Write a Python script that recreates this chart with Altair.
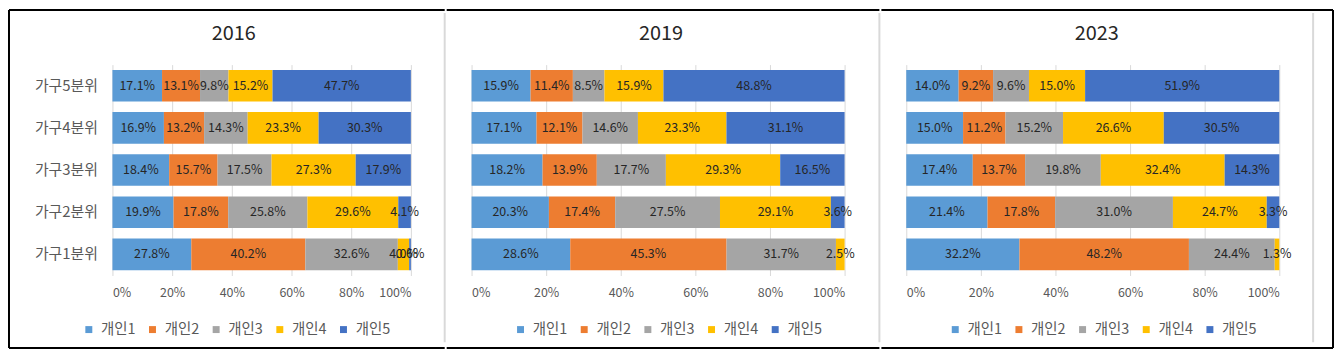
import altair as alt
import pandas as pd

years = ["2016", "2019", "2023"]
groups = ["가구5분위", "가구4분위", "가구3분위", "가구2분위", "가구1분위"]
persons = ["개인1", "개인2", "개인3", "개인4", "개인5"]
colors = ["#5B9BD5", "#ED7D31", "#A5A5A5", "#FFC000", "#4472C4"]

# rows follow `groups`, columns follow `persons`
v2016 = [
    [17.1, 13.1, 9.8, 15.2, 47.7],
    [16.9, 13.2, 14.3, 23.3, 30.3],
    [18.4, 15.7, 17.5, 27.3, 17.9],
    [19.9, 17.8, 25.8, 29.6, 4.1],
    [27.8, 40.2, 32.6, 4.0, 0.6],
]
v2019 = [
    [15.9, 11.4, 8.5, 15.9, 48.8],
    [17.1, 12.1, 14.6, 23.3, 31.1],
    [18.2, 13.9, 17.7, 29.3, 16.5],
    [20.3, 17.4, 27.5, 29.1, 3.6],
    [28.6, 45.3, 31.7, 2.5, 0.0],
]
v2023 = [
    [14.0, 9.2, 9.6, 15.0, 51.9],
    [15.0, 11.2, 15.2, 26.6, 30.5],
    [17.4, 13.7, 19.8, 32.4, 14.3],
    [21.4, 17.8, 31.0, 24.7, 3.3],
    [32.2, 48.2, 24.4, 1.3, 0.0],
]
x_ticks = [0, 0.2, 0.4, 0.6, 0.8, 1.0]

FONT = "Noto Sans CJK KR"
H = 212
BLACK = "#000000"
SEP = "#D9D9D9"


def table(vals):
    rows = []
    for gi, g in enumerate(groups):
        for pi, p in enumerate(persons):
            v = vals[gi][pi]
            if v > 0:
                rows.append({"group": g, "person": p, "order": pi, "value": v})
    return pd.DataFrame(rows)


def vrule(x, y1, y2, color, sw):
    return alt.Chart(pd.DataFrame({"d": [0]})).mark_rule(color=color, strokeWidth=sw).encode(
        x=alt.value(x), y=alt.value(y1), y2=alt.value(y2))


def hrule(x1, x2, y, color, sw):
    return alt.Chart(pd.DataFrame({"d": [0]})).mark_rule(color=color, strokeWidth=sw).encode(
        x=alt.value(x1), x2=alt.value(x2), y=alt.value(y))


def panel(year, vals, width, show_y, leg_x, title_dx, deco):
    base = alt.Chart(table(vals)).transform_stack(
        stack="value", groupby=["group"], as_=["x0", "x1"],
        sort=[alt.SortField("order", order="ascending")], offset="normalize",
    ).transform_calculate(
        mid="(datum.x0 + datum.x1) / 2",
        label="format(datum.value, '.1f') + '%'",
    )
    if show_y:
        yaxis = alt.Axis(domain=False, ticks=False, labelFont=FONT, labelFontSize=15,
                         labelColor="#595959", labelPadding=15, grid=False)
    else:
        yaxis = None
    y = alt.Y("group:N", sort=groups, title=None, axis=yaxis,
              scale=alt.Scale(paddingInner=0.25, paddingOuter=0.125))
    xaxis = alt.Axis(values=x_ticks, format=".0%", grid=True, gridColor="#D9D9D9",
                     domain=False, ticks=False, labelFont=FONT, labelFontSize=12.5,
                     labelColor="#595959", labelPadding=11)
    bars = base.mark_bar().encode(
        x=alt.X("x0:Q", scale=alt.Scale(domain=[0, 1], nice=False), axis=xaxis, title=None),
        x2="x1:Q",
        y=y,
        color=alt.Color("person:N", scale=alt.Scale(domain=persons, range=colors),
                        legend=alt.Legend(title=None, orient="none", legendX=leg_x, legendY=259,
                                          direction="horizontal", symbolType="square",
                                          symbolSize=49, symbolStrokeWidth=0,
                                          labelFont=FONT, labelFontSize=14.5,
                                          labelColor="#595959", labelOffset=5,
                                          columnPadding=9)),
    )
    text = base.mark_text(font=FONT, fontSize=12.5, color="#262626").encode(
        x=alt.X("mid:Q"), y=y, text="label:N")
    return alt.layer(bars, text, *deco).properties(
        width=width, height=H,
        title=alt.TitleParams(text=year, font=FONT, fontSize=20, fontWeight="normal",
                              color="#262626", frame="group", anchor="middle",
                              baseline="alphabetic", offset=0, dx=title_dx, dy=51),
    )


TOP, BOT = -55, 285
p1 = panel("2016", v2016, 300, True, -31, -28, [
    vrule(-104, TOP, BOT, BLACK, 2),
    hrule(-104, 334, TOP, BLACK, 2),
    hrule(-104, 334, BOT, BLACK, 2),
    vrule(334, -52, 279, SEP, 2),
])
p2 = panel("2019", v2019, 375, False, 42, 3, [
    hrule(-25, 410, TOP, BLACK, 2),
    hrule(-25, 410, BOT, BLACK, 2),
    vrule(410, -52, 279, SEP, 2),
])
p3 = panel("2023", v2023, 375, False, 42, 4, [
    hrule(-25, 429, TOP, BLACK, 2),
    hrule(-25, 429, BOT, BLACK, 2),
    vrule(409, -52, 279, SEP, 2),
    vrule(429, TOP, BOT, BLACK, 2),
])

chart = alt.hconcat(p1, p2, p3, spacing=0).resolve_legend(color="independent").properties(
    padding=0, background="white"
).configure_view(stroke=None)

chart.save("out.html", embed_options={"renderer": "svg", "actions": False})
